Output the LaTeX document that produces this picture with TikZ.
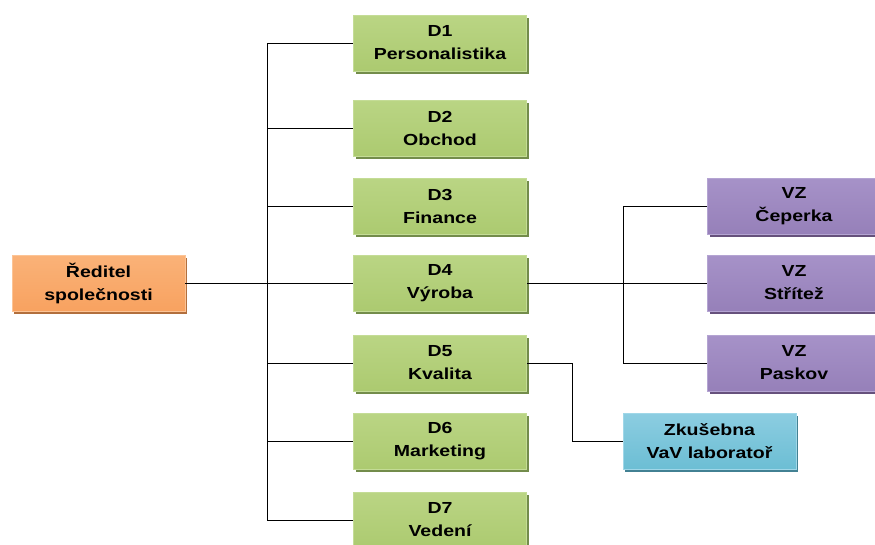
\documentclass[tikz,border=0pt]{standalone}
\usepackage{fontspec}
\setmainfont{Liberation Sans}[FakeStretch=1.22]
\usetikzlibrary{shadows}

\definecolor{grtop}{RGB}{186,213,132}
\definecolor{grmid}{RGB}{155,190,92}
\definecolor{grbot}{RGB}{172,202,112}
\definecolor{grline}{RGB}{196,220,150}
\definecolor{grshade}{RGB}{100,128,55}
\definecolor{ortop}{RGB}{250,178,120}
\definecolor{ormid}{RGB}{244,144,70}
\definecolor{orbot}{RGB}{248,162,96}
\definecolor{orline}{RGB}{252,196,150}
\definecolor{orshade}{RGB}{170,95,40}
\definecolor{putop}{RGB}{166,146,200}
\definecolor{pumid}{RGB}{128,100,165}
\definecolor{pubot}{RGB}{150,128,185}
\definecolor{puline}{RGB}{180,164,210}
\definecolor{pushade}{RGB}{85,62,110}
\definecolor{bltop}{RGB}{140,205,225}
\definecolor{blmid}{RGB}{75,172,198}
\definecolor{blbot}{RGB}{108,190,212}
\definecolor{blline}{RGB}{160,215,232}
\definecolor{blshade}{RGB}{45,115,135}

\begin{document}
\begin{tikzpicture}[x=1pt,y=1pt]
\tikzstyle{box}=[rectangle, minimum width=173pt, minimum height=56pt, inner sep=0pt, align=center, text=black, line width=0.8pt, font=\fontsize{16}{23}\selectfont\bfseries]
\tikzstyle{dept}=[box, top color=grtop, middle color=grmid, bottom color=grbot, draw=grline, drop shadow={shadow xshift=2pt, shadow yshift=-2.5pt, fill=grshade, opacity=0.9}]
\tikzstyle{boss}=[box, top color=ortop, middle color=ormid, bottom color=orbot, draw=orline, drop shadow={shadow xshift=2pt, shadow yshift=-2.5pt, fill=orshade, opacity=0.9}]
\tikzstyle{site}=[box, top color=putop, middle color=pumid, bottom color=pubot, draw=puline, drop shadow={shadow xshift=2pt, shadow yshift=-2.5pt, fill=pushade, opacity=0.9}]
\tikzstyle{lab}=[box, top color=bltop, middle color=blmid, bottom color=blbot, draw=blline, drop shadow={shadow xshift=2pt, shadow yshift=-2.5pt, fill=blshade, opacity=0.9}]
\tikzstyle{link}=[black, line width=0.9pt]
\clip (0,0) rectangle (875,-544);

% head of the company
\node[boss] (reditel) at (98.5,-283) {Ředitel\\společnosti};

% departments
\node[dept] (d1) at (440,-43) {D1\\Personalistika};
\node[dept] (d2) at (440,-128) {D2\\Obchod};
\node[dept] (d3) at (440,-206) {D3\\Finance};
\node[dept] (d4) at (440,-283) {D4\\Výroba};
\node[dept] (d5) at (440,-363) {D5\\Kvalita};
\node[dept] (d6) at (440,-441) {D6\\Marketing};
\node[dept] (d7) at (440,-520) {D7\\Vedení};

% plants and lab
\node[site] (vz1) at (794,-206) {VZ\\Čeperka};
\node[site] (vz2) at (794,-283) {VZ\\Střítež};
\node[site] (vz3) at (794,-363) {VZ\\Paskov};
\node[lab] (zkus) at (709.5,-441) {Zkušebna\\VaV laboratoř};

% connectors
\coordinate (trunk) at (267,-283);
\coordinate (split) at (623,-283);
\coordinate (bend) at (572,-363);
\draw[link] (reditel.east) -- (d4.west);
\draw[link] (d1.west) -| (trunk);
\draw[link] (d2.west) -| (trunk);
\draw[link] (d3.west) -| (trunk);
\draw[link] (d5.west) -| (trunk);
\draw[link] (d6.west) -| (trunk);
\draw[link] (d7.west) -| (trunk);
\draw[link] (d4.east) -- (vz2.west);
\draw[link] (vz1.west) -| (split);
\draw[link] (vz3.west) -| (split);
\draw[link] (d5.east) -- (bend) |- (zkus.west);
\end{tikzpicture}
\end{document}
